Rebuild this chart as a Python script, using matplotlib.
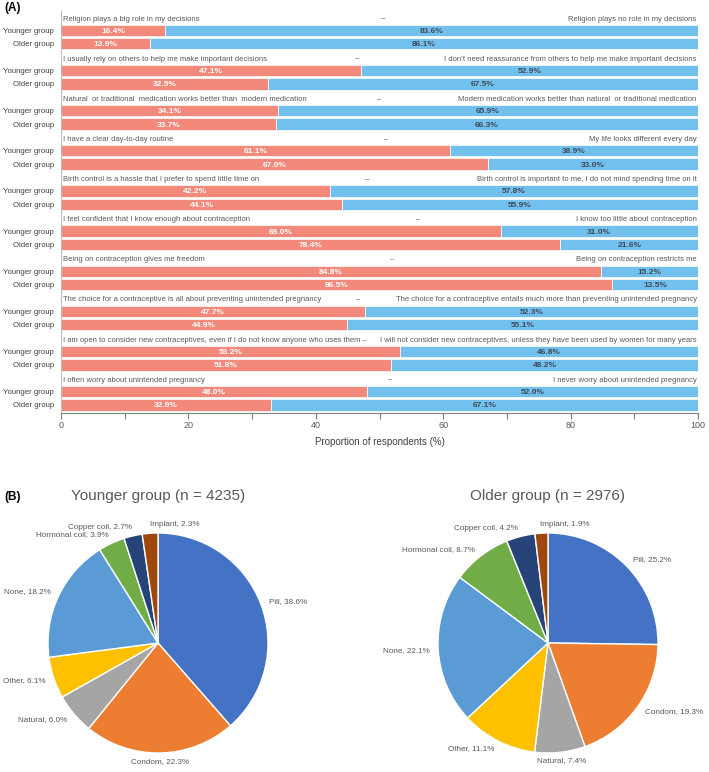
import matplotlib
matplotlib.use('Agg')
import matplotlib.pyplot as plt
import numpy as np

plt.rcParams['font.family'] = ['Liberation Sans', 'DejaVu Sans']

# ---- data: panel A ----
left_statements = [
    'Religion plays a big role in my decisions',
    'I usually rely on others to help me make important decisions',
    'Natural  or traditional  medication works better than  modern medication',
    'I have a clear day-to-day routine',
    'Birth control is a hassle that I prefer to spend little time on',
    'I feel confident that I know enough about contraception',
    'Being on contraception gives me freedom',
    'The choice for a contraceptive is all about preventing unintended pregnancy',
    'I am open to consider new contraceptives, even if I do not know anyone who uses them',
    'I often worry about unintended pregnancy',
]
right_statements = [
    'Religion plays no role in my decisions',
    'I don\u2019t need reassurance from others to help me make important decisions',
    'Modern medication works better than natural  or traditional medication',
    'My life looks different every day',
    'Birth control is important to me, I do not mind spending time on it',
    'I know too little about contraception',
    'Being on contraception restricts me',
    'The choice for a contraceptive entails much more than preventing unintended pregnancy',
    'I will not consider new contraceptives, unless they have been used by women for many years',
    'I never worry about unintended pregnancy',
]
younger_left = [16.4, 47.1, 34.1, 61.1, 42.2, 69.0, 84.8, 47.7, 53.2, 48.0]
younger_right = [83.6, 52.9, 65.9, 38.9, 57.8, 31.0, 15.2, 52.3, 46.8, 52.0]
older_left = [13.9, 32.5, 33.7, 67.0, 44.1, 78.4, 86.5, 44.9, 51.8, 32.9]
older_right = [86.1, 67.5, 66.3, 33.0, 55.9, 21.6, 13.5, 55.1, 48.2, 67.1]
groups = ['Younger group', 'Older group']

# ---- data: panel B ----
methods = ['Pill', 'Condom', 'Natural', 'Other', 'None', 'Hormonal coil', 'Copper coil', 'Implant']
younger_pie = [38.6, 22.3, 6.0, 6.1, 18.2, 3.9, 2.7, 2.3]
older_pie = [25.2, 19.3, 7.4, 11.1, 22.1, 8.7, 4.2, 1.9]
pie_titles = ['Younger group (n = 4235)', 'Older group (n = 2976)']

# layout bits
dash_x = [50.5, 46.5, 50.0, 51.0, 48.0, 56.0, 52.0, 46.6, None, 51.6]
red = '#F2897A'
blue = '#72C0EE'
pie_colors = ['#4472C4', '#ED7D31', '#A5A5A5', '#FFC000', '#5B9BD5', '#70AD47', '#264478', '#9E480E']
txt_grey = '#595959'
fs_st = 5.5

W, H = 709, 772
fig = plt.figure(figsize=(W / 100, H / 100), dpi=100)

# ---------------- panel A ----------------
ax = fig.add_axes([61 / W, 1 - 413 / H, 637 / W, 402 / H])
yticks, ylabels = [], []
for i in range(len(left_statements)):
    yy = i * 3
    yo = i * 3 + 1
    for y, l, r in [(yy, younger_left[i], younger_right[i]), (yo, older_left[i], older_right[i])]:
        ax.barh(y, l, height=0.85, color=red, edgecolor='white', lw=0.5)
        ax.barh(y, r, left=l, height=0.85, color=blue, edgecolor='white', lw=0.5)
        ax.text(l / 2, y, '%.1f%%' % l, ha='center', va='center_baseline', fontsize=6,
                fontweight='bold', color='white')
        ax.text(l + r / 2, y, '%.1f%%' % r, ha='center', va='center_baseline', fontsize=6,
                fontweight='bold', color='#404A58')
    ty = yy - 0.85
    lt = left_statements[i]
    if dash_x[i] is None:
        lt = lt + ' \u2013'
    else:
        ax.text(dash_x[i], ty, '\u2013', ha='center', va='center', fontsize=fs_st, color=txt_grey)
    ax.text(0.3, ty, lt, ha='left', va='center', fontsize=fs_st, color=txt_grey)
    ax.text(99.8, ty, right_statements[i], ha='right', va='center', fontsize=fs_st, color=txt_grey)
    yticks += [yy, yo]
    ylabels += groups

ax.set_xlim(0, 100)
ax.set_ylim(28.6, -1.45)
ax.set_yticks(yticks)
ax.set_yticklabels(ylabels, fontsize=5.6, color='#404040')
ax.tick_params(axis='y', length=0, pad=5)
ax.set_xticks(np.arange(0, 101, 20))
ax.set_xticks(np.arange(10, 100, 20), minor=True)
ax.tick_params(axis='x', which='both', direction='out', length=4, width=0.8,
               color='#7F7F7F', labelsize=6.5, labelcolor=txt_grey, pad=2)
for s in ['top', 'right']:
    ax.spines[s].set_visible(False)
ax.spines['left'].set_color('#BFBFBF')
ax.spines['bottom'].set_color('#7F7F7F')
ax.set_xlabel('Proportion of respondents (%)', fontsize=7, color='#404040', labelpad=5)

fig.text(4 / W, 1 - 8 / H, '(A)', fontsize=8.5, fontweight='bold', va='center', ha='left')
fig.text(4 / W, 1 - 497 / H, '(B)', fontsize=8.5, fontweight='bold', va='center', ha='left')

# ---------------- panel B ----------------
R = 110
for cx, vals, title in [(158, younger_pie, pie_titles[0]), (548, older_pie, pie_titles[1])]:
    pax = fig.add_axes([(cx - R) / W, 1 - (643 + R) / H, 2 * R / W, 2 * R / H])
    wedges, _ = pax.pie(vals, colors=pie_colors, startangle=90, counterclock=False,
                        wedgeprops=dict(edgecolor='white', linewidth=1.0))
    pax.set_xlim(-1, 1)
    pax.set_ylim(-1, 1)
    pax.set_aspect('equal')
    pax.axis('off')
    cum = 0
    for m, v in zip(methods, vals):
        mid = np.deg2rad(90 - (cum + v / 2) * 3.6)
        cum += v
        x, y = 1.08 * np.cos(mid), 1.08 * np.sin(mid)
        if abs(x) < 0.2 and y < 0:
            ha = 'center'
        elif x > -0.1:
            ha = 'left'
        else:
            ha = 'right'
        pax.text(x, y, '%s, %.1f%%' % (m, v), ha=ha, va='center', fontsize=5.9,
                 color=txt_grey, clip_on=False)
    fig.text(cx / W, 1 - 496 / H, title, ha='center', va='center', fontsize=11, color=txt_grey)

fig.savefig('out.png', dpi=100)
